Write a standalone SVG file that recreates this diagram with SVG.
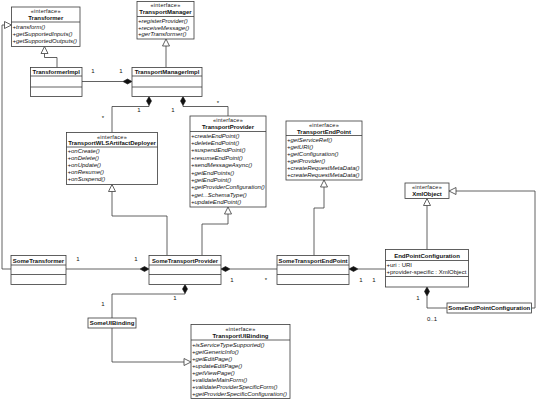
<svg xmlns="http://www.w3.org/2000/svg" width="540" height="400" viewBox="0 0 540 400">
<style>
.box{fill:#fff;stroke:#3a3a3a;stroke-width:0.8}
.ln{fill:none;stroke:#3a3a3a;stroke-width:0.8}
.tri{fill:#fff;stroke:#3a3a3a;stroke-width:0.8}
.dia{fill:#111;stroke:#111;stroke-width:0.6}
text{font-family:"Liberation Sans",Arial,sans-serif;fill:#111}
.st{font-size:5.5px;letter-spacing:0.25px;text-anchor:middle}
.nm{font-size:6px;font-weight:bold;text-anchor:middle}
.op{font-size:6px;font-style:italic}
.at{font-size:6px}
.lb{font-size:6px;text-anchor:middle}
</style>
<rect width="540" height="400" fill="#fff"/>

<g id="connectors">
  <!-- SomeTransformer realizes Transformer -->
  <path class="ln" d="M4.5,25 H2 V269 H11"/>
  <polygon class="tri" points="11.5,25 4.5,21.5 4.5,28.5"/>
  <!-- TransformerImpl realizes Transformer -->
  <path class="ln" d="M44.5,53.5 V57.5 H57 V67.5"/>
  <polygon class="tri" points="44.5,46.5 41,53.5 48,53.5"/>
  <!-- TransportManagerImpl realizes TransportManager -->
  <path class="ln" d="M166,46 V67.5"/>
  <polygon class="tri" points="166,39 162.5,46 169.5,46"/>
  <!-- TransformerImpl composed in TransportManagerImpl -->
  <path class="ln" d="M82,81.5 H123"/>
  <polygon class="dia" points="132,81.5 127.5,79 123,81.5 127.5,84"/>
  <text class="lb" x="93" y="72.5">1</text>
  <text class="lb" x="121" y="72.5">1</text>
  <!-- TransportManagerImpl to deployer -->
  <path class="ln" d="M149,105.5 V106.5 H112 V132.5"/>
  <polygon class="dia" points="149,96.5 151.5,101 149,105.5 146.5,101"/>
  <text class="lb" x="139" y="112">1</text>
  <text class="lb" x="103" y="120">*</text>
  <!-- TransportManagerImpl to TransportProvider -->
  <path class="ln" d="M183,105.5 V106.5 H228 V116"/>
  <polygon class="dia" points="183,96.5 185.5,101 183,105.5 180.5,101"/>
  <text class="lb" x="173" y="112">1</text>
  <text class="lb" x="218" y="104.5">*</text>
  <!-- SomeTransportProvider realizes deployer -->
  <path class="ln" d="M112,191.5 V216 H167 V255.5"/>
  <polygon class="tri" points="112,184.5 108.5,191.5 115.5,191.5"/>
  <!-- SomeTransportProvider realizes TransportProvider -->
  <path class="ln" d="M228,214 V224 H202 V255.5"/>
  <polygon class="tri" points="228,207 224.5,214 231.5,214"/>
  <!-- SomeTransportEndPoint realizes TransportEndPoint -->
  <path class="ln" d="M324,187 V208 H314 V255.5"/>
  <polygon class="tri" points="324,180 320.5,187 327.5,187"/>
  <!-- EndPointConfiguration realizes XmlObject -->
  <path class="ln" d="M427,205.5 V249.5"/>
  <polygon class="tri" points="427,198.5 423.5,205.5 430.5,205.5"/>
  <!-- SomeEndPointConfiguration realizes XmlObject -->
  <path class="ln" d="M456,191 H535 V308 H531.5"/>
  <polygon class="tri" points="449,191 456,187.5 456,194.5"/>
  <!-- SomeTransformer in SomeTransportProvider -->
  <path class="ln" d="M66,269 H140"/>
  <polygon class="dia" points="149,269 144.5,266.5 140,269 144.5,271.5"/>
  <text class="lb" x="78" y="260.5">1</text>
  <text class="lb" x="136" y="260.5">1</text>
  <!-- SomeTransportProvider to SomeTransportEndPoint -->
  <path class="ln" d="M230,269 H277"/>
  <polygon class="dia" points="221,269 225.5,266.5 230,269 225.5,271.5"/>
  <text class="lb" x="232" y="281.5">1</text>
  <text class="lb" x="266" y="282">*</text>
  <!-- SomeTransportEndPoint to EndPointConfiguration -->
  <path class="ln" d="M358,269 H385.5"/>
  <polygon class="dia" points="349,269 353.5,266.5 358,269 353.5,271.5"/>
  <text class="lb" x="361" y="281.5">1</text>
  <text class="lb" x="374" y="281.5">1</text>
  <!-- EndPointConfiguration to SomeEndPointConfiguration -->
  <path class="ln" d="M427,296 V308 H447"/>
  <polygon class="dia" points="427,287 429.5,291.5 427,296 424.5,291.5"/>
  <text class="lb" x="418" y="300">1</text>
  <text class="lb" x="432" y="321">0..1</text>
  <!-- SomeTransportProvider to SomeUIBinding -->
  <path class="ln" d="M185,293.5 V294 H112 V318"/>
  <polygon class="dia" points="185,284.5 187.5,289 185,293.5 182.5,289"/>
  <text class="lb" x="175" y="300">1</text>
  <text class="lb" x="103" y="306">1</text>
  <!-- SomeUIBinding realizes TransportUIBinding -->
  <path class="ln" d="M112,328 V362 H184"/>
  <polygon class="tri" points="191,362 184,358.5 184,365.5"/>
</g>

<g id="Transformer">
  <rect class="box" x="11.5" y="7" width="68.5" height="39.5"/>
  <line class="ln" x1="11.5" y1="22" x2="80" y2="22"/>
  <text class="st" x="45.75" y="13">«interface»</text>
  <text class="nm" x="45.75" y="19.5">Transformer</text>
  <text class="op" x="12.5" y="28.5">+transform()</text>
  <text class="op" x="12.5" y="35.5">+getSupportedInputs()</text>
  <text class="op" x="12.5" y="42.5">+getSupportedOutputs()</text>
</g>

<g id="TransportManager">
  <rect class="box" x="137" y="1.5" width="57" height="37.5"/>
  <line class="ln" x1="137" y1="16.5" x2="194" y2="16.5"/>
  <text class="st" x="165.5" y="7.3">«interface»</text>
  <text class="nm" x="165.5" y="14">TransportManager</text>
  <text class="op" x="138" y="22.5">+registerProvider()</text>
  <text class="op" x="138" y="29.5">+receiveMessage()</text>
  <text class="op" x="138" y="36.2">+gerTransformer()</text>
</g>

<g id="TransformerImpl">
  <rect class="box" x="30.5" y="67.5" width="51.5" height="29"/>
  <line class="ln" x1="30.5" y1="76" x2="82" y2="76"/>
  <line class="ln" x1="30.5" y1="87" x2="82" y2="87"/>
  <text class="nm" x="56.25" y="74">TransformerImpl</text>
</g>

<g id="TransportManagerImpl">
  <rect class="box" x="132" y="67.5" width="70" height="29"/>
  <line class="ln" x1="132" y1="76" x2="202" y2="76"/>
  <line class="ln" x1="132" y1="87" x2="202" y2="87"/>
  <text class="nm" x="167" y="74">TransportManagerImpl</text>
</g>

<g id="TransportWLSArtifactDeployer">
  <rect class="box" x="66.5" y="132.5" width="91" height="52"/>
  <line class="ln" x1="66.5" y1="147" x2="157.5" y2="147"/>
  <text class="st" x="112" y="138.5">«interface»</text>
  <text class="nm" x="112" y="145">TransportWLSArtifactDeployer</text>
  <text class="op" x="67.5" y="153">+onCreate()</text>
  <text class="op" x="67.5" y="160">+onDelete()</text>
  <text class="op" x="67.5" y="167">+onUpdate()</text>
  <text class="op" x="67.5" y="174">+onResume()</text>
  <text class="op" x="67.5" y="181">+onSuspend()</text>
</g>

<g id="TransportProvider">
  <rect class="box" x="190" y="116" width="76" height="91"/>
  <line class="ln" x1="190" y1="131.5" x2="266" y2="131.5"/>
  <text class="st" x="228" y="122">«interface»</text>
  <text class="nm" x="228" y="129">TransportProvider</text>
  <text class="op" x="191" y="137.5">+createEndPoint()</text>
  <text class="op" x="191" y="144.9">+deleteEndPoint()</text>
  <text class="op" x="191" y="152.3">+suspendEndPoint()</text>
  <text class="op" x="191" y="159.7">+resumeEndPoint()</text>
  <text class="op" x="191" y="167.1">+sendMessageAsync()</text>
  <text class="op" x="191" y="174.5">+getEndPoints()</text>
  <text class="op" x="191" y="181.9">+getEndPoint()</text>
  <text class="op" x="191" y="189.3">+getProviderConfiguration()</text>
  <text class="op" x="191" y="196.7">+get...SchemaType()</text>
  <text class="op" x="191" y="204.1">+updateEndPoint()</text>
</g>

<g id="TransportEndPoint">
  <rect class="box" x="286" y="121" width="76" height="59"/>
  <line class="ln" x1="286" y1="135.5" x2="362" y2="135.5"/>
  <text class="st" x="324" y="126.8">«interface»</text>
  <text class="nm" x="324" y="133.5">TransportEndPoint</text>
  <text class="op" x="287" y="141.5">+getServiceRef()</text>
  <text class="op" x="287" y="148.6">+getURI()</text>
  <text class="op" x="287" y="155.7">+getConfiguration()</text>
  <text class="op" x="287" y="162.8">+getProvider()</text>
  <text class="op" x="287" y="169.9">+createRequestMetaData()</text>
  <text class="op" x="287" y="177">+createRequestMetaData()</text>
</g>

<g id="XmlObject">
  <rect class="box" x="405" y="183" width="44" height="15.5"/>
  <text class="st" x="427" y="188.5">«interface»</text>
  <text class="nm" x="427" y="195.5">XmlObject</text>
</g>

<g id="EndPointConfiguration">
  <rect class="box" x="385.5" y="249.5" width="83" height="37.5"/>
  <line class="ln" x1="385.5" y1="260.5" x2="468.5" y2="260.5"/>
  <line class="ln" x1="385.5" y1="276.5" x2="468.5" y2="276.5"/>
  <text class="nm" x="427" y="257.5">EndPointConfiguration</text>
  <text class="at" x="386.5" y="266.5">+uri : URI</text>
  <text class="at" x="386.5" y="274">+provider-specific : XmlObject</text>
</g>

<g id="SomeEndPointConfiguration">
  <rect class="box" x="447" y="303" width="84.5" height="10"/>
  <text class="nm" x="489.25" y="310.3">SomeEndPointConfiguration</text>
</g>

<g id="SomeTransformer">
  <rect class="box" x="11" y="255.5" width="55" height="29"/>
  <line class="ln" x1="11" y1="265" x2="66" y2="265"/>
  <line class="ln" x1="11" y1="274.5" x2="66" y2="274.5"/>
  <text class="nm" x="38.5" y="262.5">SomeTransformer</text>
</g>

<g id="SomeTransportProvider">
  <rect class="box" x="149" y="255.5" width="72" height="29"/>
  <line class="ln" x1="149" y1="265" x2="221" y2="265"/>
  <line class="ln" x1="149" y1="274.5" x2="221" y2="274.5"/>
  <text class="nm" x="185" y="262.5" style="font-size:5.8px">SomeTransportProvider</text>
</g>

<g id="SomeTransportEndPoint">
  <rect class="box" x="277" y="255.5" width="72" height="29"/>
  <line class="ln" x1="277" y1="265" x2="349" y2="265"/>
  <line class="ln" x1="277" y1="274.5" x2="349" y2="274.5"/>
  <text class="nm" x="313" y="262.5" style="font-size:5.9px">SomeTransportEndPoint</text>
</g>

<g id="SomeUIBinding">
  <rect class="box" x="88" y="318" width="48" height="10"/>
  <text class="nm" x="112" y="325.3">SomeUIBinding</text>
</g>

<g id="TransportUIBinding">
  <rect class="box" x="191" y="324.5" width="99" height="74"/>
  <line class="ln" x1="191" y1="340" x2="290" y2="340"/>
  <text class="st" x="240.5" y="330.5">«interface»</text>
  <text class="nm" x="240.5" y="337.5">TransportUIBinding</text>
  <text class="op" x="192" y="346.5">+isServiceTypeSupported()</text>
  <text class="op" x="192" y="353.5">+getGenericInfo()</text>
  <text class="op" x="192" y="360.6">+getEditPage()</text>
  <text class="op" x="192" y="367.6">+updateEditPage()</text>
  <text class="op" x="192" y="374.7">+getViewPage()</text>
  <text class="op" x="192" y="381.7">+validateMainForm()</text>
  <text class="op" x="192" y="388.8">+validateProviderSpecificForm()</text>
  <text class="op" x="192" y="395.8">+getProviderSpecificConfiguration()</text>
</g>
</svg>
